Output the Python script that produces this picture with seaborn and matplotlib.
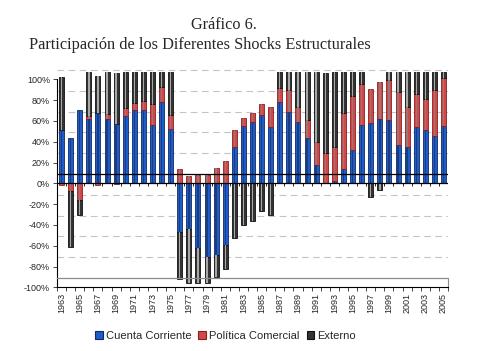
import numpy as np
import pandas as pd
import matplotlib
matplotlib.use("Agg")
import matplotlib.pyplot as plt
from matplotlib.patches import Patch
import seaborn as sns

sns.set_style("white")
plt.rcParams['font.family'] = ['Liberation Sans', 'DejaVu Sans']

years = [str(y) for y in range(1963, 2006)]

cuenta_corriente = [51, 44, 71, 62, 68, 62, 57, 65, 71, 71, 56, 78, 52,
                    -47, -44, -62, -71, -69, -59, 35, 55, 59, 66, 54, 78, 69,
                    59, 44, 18, 0, 2, 14, 32, 56, 58, 62, 61, 37, 35, 54, 51,
                    46, 55]
politica_comercial = [-2, -7, -16, 3, -2, 5, -1, 7, 6, 8, 20, 15, 14,
                      14, 7, 8, 8, 15, 21, 16, 8, 9, 10, 19, 14, 21,
                      14, 17, 22, 29, 33, 54, 52, 40, 33, 35, 38, 51, 38, 32, 30,
                      44, 46]
externo = [51, -54, -14, 42, 35, 40, 49, 35, 30, 28, 31, 14, 41,
           -45, -52, -34, -25, -21, -23, -53, -40, -36, -27, -30, 15, 17,
           34, 46, 67, 77, 72, 39, 23, 11, -13, -6, 8, 19, 34, 21, 26,
           17, 6]

series_names = ["Cuenta Corriente", "Política Comercial", "Externo"]
series_vals = [cuenta_corriente, politica_comercial, externo]
colors = ["#1f5cc8", "#d24848", "#333333"]
inner_colors = ["#1a3c80", "#9c7676", "#a8a8a8"]
edge_colors = ["#0d2a66", "#8a1f1f", "#111111"]

fig = plt.figure(figsize=(4.8, 3.51), dpi=100)
ax = fig.add_axes([0.1188, 0.1815, 0.8146, 0.622])

n = len(years)
pos_bottom = np.zeros(n)
neg_bottom = np.zeros(n)
for name, vals, c, ic, ec in zip(series_names, series_vals, colors, inner_colors, edge_colors):
    v = np.array(vals, dtype=float)
    bottom = np.where(v >= 0, pos_bottom, neg_bottom)
    df = pd.DataFrame({"year": years, "value": v})
    sns.barplot(data=df, x="year", y="value", bottom=bottom, color=c, width=0.55,
                saturation=1, errorbar=None, edgecolor=ec, linewidth=0.6,
                ax=ax, zorder=2)
    sns.barplot(data=df, x="year", y="value", bottom=bottom, color=ic, width=0.15,
                saturation=1, errorbar=None, linewidth=0, ax=ax, zorder=2.5)
    pos_bottom = pos_bottom + np.where(v > 0, v, 0)
    neg_bottom = neg_bottom + np.where(v < 0, v, 0)

ax.set_xlim(-0.5, n - 0.5)
ax.set_ylim(-100, 110)

# gridlines (offset, as in the original)
for g in [109, 89, 69, 49, 29, -11, -31, -51, -71]:
    ax.axhline(g, color="#c4c4c4", lw=0.8, ls=(0, (6, 4)), zorder=0.5)
ax.axhline(9, color="black", lw=0.9, zorder=3)
ax.axhline(-91, color="#8c8c8c", lw=0.9, zorder=3)
ax.axhline(0, color="black", lw=0.9, zorder=3)
bounds = np.arange(n + 1) - 0.5
ax.vlines(bounds[1:-1], -2.8, 0, color="black", lw=0.6, zorder=3)

ax.spines["top"].set_visible(False)
ax.spines["left"].set_bounds(-100, 100)
ax.spines["right"].set_bounds(-100, -91)
ax.spines["right"].set_color("#8c8c8c")
for s in ["left", "bottom"]:
    ax.spines[s].set_color("black")
    ax.spines[s].set_linewidth(0.8)

yt = list(range(-100, 101, 20))
ax.set_yticks(yt)
ax.set_yticklabels([f"{t}%" for t in yt], fontsize=6.5)
ax.tick_params(axis="y", length=3, width=0.6, pad=2, left=True)

ax.set_xticks(range(n))
ax.set_xticklabels([y if i % 2 == 0 else "" for i, y in enumerate(years)],
                   rotation=90, fontsize=6.5)
ax.tick_params(axis="x", which="major", length=0, pad=4)
ax.set_xticks(bounds, minor=True)
ax.tick_params(axis="x", which="minor", length=3, width=0.6, bottom=True)
ax.set_xlabel("")
ax.set_ylabel("")
ax.grid(False)

fig.text(224 / 480, 1 - 25 / 351, "Gráfico 6.", ha="center", va="center",
         fontsize=11.7, family=["Liberation Serif", "DejaVu Serif"])
fig.text(29 / 480, 1 - 45 / 351, "Participación de los Diferentes Shocks Estructurales",
         ha="left", va="center", fontsize=11.7, family=["Liberation Serif", "DejaVu Serif"])

handles = [Patch(facecolor=c, edgecolor=ec, linewidth=0.8) for c, ec in zip(colors, edge_colors)]
fig.legend(handles, series_names, loc="center", bbox_to_anchor=(0.47, 0.043), ncol=3,
           frameon=False, fontsize=8, handlelength=0.7, handleheight=0.7,
           handletextpad=0.3, columnspacing=0.6, borderpad=0)

fig.savefig("out.png", dpi=100)
